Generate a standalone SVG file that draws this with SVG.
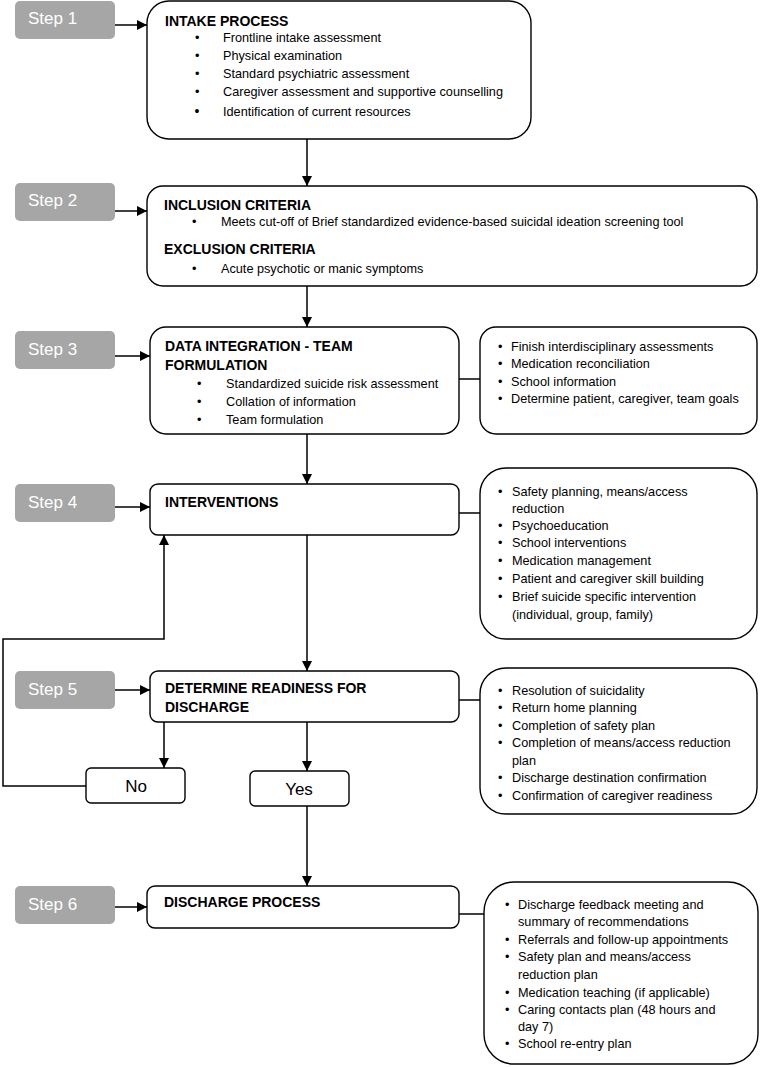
<svg xmlns="http://www.w3.org/2000/svg" width="761" height="1067" viewBox="0 0 761 1067">
<defs>
<marker id="ah" markerUnits="userSpaceOnUse" markerWidth="10" markerHeight="10" viewBox="0 0 10 10" refX="10" refY="5" orient="auto">
<path d="M0,0 L10,5 L0,10 z" fill="#000"/>
</marker>
</defs>
<style>
.step{fill:#a6a6a6;stroke:none}
.steptxt{font-family:"Liberation Sans",Arial,sans-serif;font-size:17px;fill:#fff}
.box{fill:#fff;stroke:#000;stroke-width:1.4}
.title{font-family:"Liberation Sans",Arial,sans-serif;font-size:14px;font-weight:bold;fill:#000}
.t{font-family:"Liberation Sans",Arial,sans-serif;font-size:12.7px;fill:#000}
.yn{font-family:"Liberation Sans",Arial,sans-serif;font-size:17px;fill:#000}
.ln{fill:none;stroke:#000;stroke-width:1.5}
</style>
<rect width="761" height="1067" fill="#fff"/>

<g id="step1"><rect class="step" x="15" y="1" width="100" height="38" rx="5"/><text class="steptxt" x="28" y="24">Step 1</text></g>
<g id="step2"><rect class="step" x="15" y="183" width="100" height="38" rx="5"/><text class="steptxt" x="28" y="206">Step 2</text></g>
<g id="step3"><rect class="step" x="15" y="331" width="100" height="38" rx="5"/><text class="steptxt" x="28" y="355">Step 3</text></g>
<g id="step4"><rect class="step" x="15" y="484" width="100" height="38" rx="5"/><text class="steptxt" x="28" y="508">Step 4</text></g>
<g id="step5"><rect class="step" x="15" y="671" width="100" height="38" rx="5"/><text class="steptxt" x="28" y="695">Step 5</text></g>
<g id="step6"><rect class="step" x="15" y="886" width="100" height="38" rx="5"/><text class="steptxt" x="28" y="910">Step 6</text></g>

<g id="intake">
<rect class="box" x="147" y="1" width="384" height="138" rx="22"/>
<text class="title" x="165" y="26">INTAKE PROCESS</text>
<text class="t" x="195" y="42">•</text><text class="t" x="223" y="42">Frontline intake assessment</text>
<text class="t" x="195" y="60">•</text><text class="t" x="223" y="60">Physical examination</text>
<text class="t" x="195" y="78">•</text><text class="t" x="223" y="78">Standard psychiatric assessment</text>
<text class="t" x="195" y="96">•</text><text class="t" x="223" y="96">Caregiver assessment and supportive counselling</text>
<text class="t" x="194.5" y="116" style="font-size:14px">•</text><text class="t" x="223" y="116">Identification of current resources</text>
</g>

<g id="criteria">
<rect class="box" x="147" y="186" width="610" height="100" rx="16"/>
<text class="title" x="164" y="210">INCLUSION CRITERIA</text>
<text class="t" x="192" y="226">•</text><text class="t" x="221" y="226">Meets cut-off of Brief standardized evidence-based suicidal ideation screening tool</text>
<text class="title" x="164" y="254">EXCLUSION CRITERIA</text>
<text class="t" x="192" y="273">•</text><text class="t" x="221" y="273">Acute psychotic or manic symptoms</text>
</g>

<g id="integration">
<rect class="box" x="150" y="327" width="309" height="107" rx="16"/>
<text class="title" x="165" y="351">DATA INTEGRATION - TEAM</text>
<text class="title" x="165" y="370">FORMULATION</text>
<text class="t" x="197" y="388">•</text><text class="t" x="226" y="388">Standardized suicide risk assessment</text>
<text class="t" x="197" y="406">•</text><text class="t" x="226" y="406">Collation of information</text>
<text class="t" x="197" y="424">•</text><text class="t" x="226" y="424">Team formulation</text>
</g>
<g id="integration-detail">
<rect class="box" x="480" y="327" width="277" height="107" rx="16"/>
<text class="t" x="498" y="351">•</text><text class="t" x="511" y="351">Finish interdisciplinary assessments</text>
<text class="t" x="498" y="368">•</text><text class="t" x="511" y="368">Medication reconciliation</text>
<text class="t" x="498" y="386">•</text><text class="t" x="511" y="386">School information</text>
<text class="t" x="498" y="403">•</text><text class="t" x="511" y="403">Determine patient, caregiver, team goals</text>
</g>

<g id="interventions">
<rect class="box" x="150" y="484" width="309" height="51" rx="8"/>
<text class="title" x="165" y="507">INTERVENTIONS</text>
</g>
<g id="interventions-detail">
<rect class="box" x="480" y="468" width="277" height="171" rx="26"/>
<text class="t" x="498" y="496">•</text><text class="t" x="512" y="496">Safety planning, means/access</text>
<text class="t" x="512" y="513">reduction</text>
<text class="t" x="498" y="530">•</text><text class="t" x="512" y="530">Psychoeducation</text>
<text class="t" x="498" y="547">•</text><text class="t" x="512" y="547">School interventions</text>
<text class="t" x="498" y="565">•</text><text class="t" x="512" y="565">Medication management</text>
<text class="t" x="498" y="583">•</text><text class="t" x="512" y="583">Patient and caregiver skill building</text>
<text class="t" x="498" y="601">•</text><text class="t" x="512" y="601">Brief suicide specific intervention</text>
<text class="t" x="512" y="619">(individual, group, family)</text>
</g>

<g id="readiness">
<rect class="box" x="150" y="671" width="309" height="51" rx="8"/>
<text class="title" x="165" y="693">DETERMINE READINESS FOR</text>
<text class="title" x="165" y="712">DISCHARGE</text>
</g>
<g id="readiness-detail">
<rect class="box" x="480" y="668" width="277" height="146" rx="26"/>
<text class="t" x="498" y="695">•</text><text class="t" x="512" y="695">Resolution of suicidality</text>
<text class="t" x="498" y="712">•</text><text class="t" x="512" y="712">Return home planning</text>
<text class="t" x="498" y="730">•</text><text class="t" x="512" y="730">Completion of safety plan</text>
<text class="t" x="498" y="747">•</text><text class="t" x="512" y="747">Completion of means/access reduction</text>
<text class="t" x="512" y="765">plan</text>
<text class="t" x="498" y="782">•</text><text class="t" x="512" y="782">Discharge destination confirmation</text>
<text class="t" x="498" y="800">•</text><text class="t" x="512" y="800">Confirmation of caregiver readiness</text>
</g>

<g id="no">
<rect class="box" x="86" y="768" width="99" height="35" rx="5"/>
<text class="yn" x="136" y="792" text-anchor="middle">No</text>
</g>
<g id="yes">
<rect class="box" x="250" y="771" width="99" height="35" rx="5"/>
<text class="yn" x="299" y="795" text-anchor="middle">Yes</text>
</g>

<g id="discharge">
<rect class="box" x="147" y="886" width="312" height="42" rx="8"/>
<text class="title" x="164" y="907">DISCHARGE PROCESS</text>
</g>
<g id="discharge-detail">
<rect class="box" x="484" y="882" width="274" height="182" rx="30"/>
<text class="t" x="505" y="909">•</text><text class="t" x="518" y="909">Discharge feedback meeting and</text>
<text class="t" x="518" y="926">summary of recommendations</text>
<text class="t" x="505" y="944">•</text><text class="t" x="518" y="944">Referrals and follow-up appointments</text>
<text class="t" x="505" y="961">•</text><text class="t" x="518" y="961">Safety plan and means/access</text>
<text class="t" x="518" y="979">reduction plan</text>
<text class="t" x="505" y="997">•</text><text class="t" x="518" y="997">Medication teaching (if applicable)</text>
<text class="t" x="505" y="1014">•</text><text class="t" x="518" y="1014">Caring contacts plan (48 hours and</text>
<text class="t" x="518" y="1031">day 7)</text>
<text class="t" x="505" y="1048">•</text><text class="t" x="518" y="1048">School re-entry plan</text>
</g>

<g id="connectors">
<line class="ln" x1="115" y1="25" x2="147" y2="25" marker-end="url(#ah)"/>
<line class="ln" x1="115" y1="211" x2="147" y2="211" marker-end="url(#ah)"/>
<line class="ln" x1="115" y1="356" x2="150" y2="356" marker-end="url(#ah)"/>
<line class="ln" x1="115" y1="507" x2="150" y2="507" marker-end="url(#ah)"/>
<line class="ln" x1="115" y1="690" x2="150" y2="690" marker-end="url(#ah)"/>
<line class="ln" x1="115" y1="907" x2="147" y2="907" marker-end="url(#ah)"/>
<line class="ln" x1="307" y1="139" x2="307" y2="186" marker-end="url(#ah)"/>
<line class="ln" x1="307" y1="286" x2="307" y2="327" marker-end="url(#ah)"/>
<line class="ln" x1="307" y1="434" x2="307" y2="484" marker-end="url(#ah)"/>
<line class="ln" x1="307" y1="535" x2="307" y2="671" marker-end="url(#ah)"/>
<line class="ln" x1="164" y1="722" x2="164" y2="768" marker-end="url(#ah)"/>
<line class="ln" x1="307" y1="722" x2="307" y2="771" marker-end="url(#ah)"/>
<line class="ln" x1="307" y1="806" x2="307" y2="886" marker-end="url(#ah)"/>
<polyline class="ln" points="86,786 3,786 3,639 164,639 164,535" marker-end="url(#ah)"/>
<line class="ln" x1="459" y1="379" x2="480" y2="379"/>
<line class="ln" x1="459" y1="513" x2="480" y2="513"/>
<line class="ln" x1="459" y1="700" x2="480" y2="700"/>
<line class="ln" x1="459" y1="914" x2="484" y2="914"/>
</g>
</svg>
